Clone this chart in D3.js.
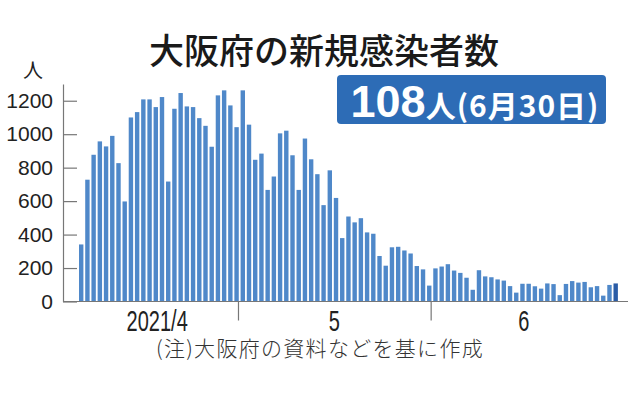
<!DOCTYPE html>
<html>
<head>
<meta charset="utf-8">
<script src="https://cdn.jsdelivr.net/npm/d3@7"></script>
<style>
  body { margin: 0; background: #fff; }
  svg { display: block; }
</style>
</head>
<body>
<div id="chart"></div>
<script>
// daily new cases in Osaka, 2021-04-05 .. 2021-06-30
var startDay = "2021-04-05";
var aprilCases = [341, 728, 877, 957, 927, 990, 827, 598, 1100, 1132, 1208, 1208, 1162,
                  1222, 717, 1152, 1246, 1166, 1162, 1096, 1050, 925, 1232, 1262, 1172, 1042];
var mayCases = [1262, 1057, 847, 884, 667, 747, 1005, 1021, 874, 667, 974, 850, 761, 576,
                784, 619, 379, 508, 473, 498, 413, 405, 272, 214, 324, 327, 305, 287, 212, 192, 95];
var juneCases = [198, 209, 223, 185, 171, 142, 70, 187, 150, 145, 132, 125, 92, 53, 106,
                 106, 91, 77, 108, 104, 38, 105, 122, 113, 117, 85, 92, 35, 99, 108];
var yTicks = [0, 200, 400, 600, 800, 1000, 1200];
var monthLabels = ["2021/4", "5", "6"];
var monthStarts = ["2021-04-05", "2021-05-01", "2021-06-01", "2021-07-01"];

var width = 638, height = 396;
var parse = d3.utcParse("%Y-%m-%d");
var cases = aprilCases.concat(mayCases, juneCases);
var data = cases.map(function(v, i) {
  return { date: d3.utcDay.offset(parse(startDay), i), value: v };
});

var svg = d3.select("#chart").append("svg")
  .attr("width", width)
  .attr("height", height);

var x = d3.scaleUtc()
  .domain([parse(monthStarts[0]), parse(monthStarts[3])])
  .range([76.4, 76.4 + 87 * 6.215]);
var y = d3.scaleLinear()
  .domain([0, 1300])
  .range([301.5, 84]);

// title
svg.append("text")
  .attr("x", 324)
  .attr("y", 64)
  .attr("text-anchor", "middle")
  .attr("font-family", "'Noto Sans CJK JP'")
  .attr("font-weight", 500)
  .attr("font-size", 35)
  .attr("fill", "#1a1a1a")
  .text("大阪府の新規感染者数");

// highlight box
svg.append("rect")
  .attr("x", 337)
  .attr("y", 75)
  .attr("width", 269)
  .attr("height", 49)
  .attr("rx", 4)
  .attr("fill", "#2d6cb6");

var latest = svg.append("text")
  .attr("x", 475)
  .attr("y", 117)
  .attr("text-anchor", "middle")
  .attr("fill", "#fff")
  .attr("font-weight", 700);
latest.append("tspan")
  .attr("font-family", "'Liberation Sans', Arial")
  .attr("font-size", 45)
  .text(cases[cases.length - 1]);
latest.append("tspan")
  .attr("font-family", "'Noto Sans CJK JP'")
  .attr("font-size", 30)
  .attr("letter-spacing", 1)
  .text("人(6月30日)");

// unit
svg.append("text")
  .attr("x", 33)
  .attr("y", 78)
  .attr("text-anchor", "middle")
  .attr("font-family", "'Noto Sans CJK JP'")
  .attr("font-size", 20)
  .attr("fill", "#222")
  .text("人");

// bars
svg.append("g")
  .selectAll("rect")
  .data(data)
  .enter()
  .append("rect")
  .attr("x", function(d) { return x(d.date) + 2.6; })
  .attr("y", function(d) { return y(d.value); })
  .attr("width", 4.4)
  .attr("height", function(d) { return y(0) - y(d.value); })
  .attr("fill", function(d, i) { return i == data.length - 1 ? "#2a5ca6" : "#4f88c9"; });

// y axis, ticks pointing inward
var yAxis = svg.append("g")
  .attr("transform", "translate(63,0)")
  .call(d3.axisLeft(y).tickValues(yTicks).tickFormat(d3.format("d"))
    .tickSizeInner(-14).tickSizeOuter(0).tickPadding(10));
yAxis.selectAll("path, line").attr("stroke", "#777").attr("stroke-width", 1.2);
yAxis.selectAll("text")
  .attr("font-family", "'Liberation Sans', Arial")
  .attr("font-size", 21)
  .attr("fill", "#222");

// x axis: month separators
var xAxis = svg.append("g")
  .attr("transform", "translate(0," + y(0) + ")")
  .call(d3.axisBottom(x)
    .tickValues([parse(monthStarts[1]), parse(monthStarts[2])])
    .tickSize(19)
    .tickFormat(""));
xAxis.select(".domain").remove();
xAxis.selectAll("line").attr("stroke", "#777").attr("stroke-width", 1.2);

svg.append("line")
  .attr("x1", 63)
  .attr("x2", 628)
  .attr("y1", y(0))
  .attr("y2", y(0))
  .attr("stroke", "#777")
  .attr("stroke-width", 1.2);

// month labels centred on each month's span
monthLabels.forEach(function(label, i) {
  var cx = (x(parse(monthStarts[i])) + x(parse(monthStarts[i + 1]))) / 2;
  svg.append("text")
    .attr("transform", "translate(" + cx + ",331) scale(0.69,1)")
    .attr("text-anchor", "middle")
    .attr("font-family", "'Liberation Sans', Arial")
    .attr("font-size", 29)
    .attr("fill", "#222")
    .text(label);
});

// source note
svg.append("text")
  .attr("x", 320)
  .attr("y", 356)
  .attr("text-anchor", "middle")
  .attr("font-family", "'Noto Sans CJK JP'")
  .attr("font-weight", 300)
  .attr("font-size", 21)
  .attr("letter-spacing", 1.3)
  .attr("fill", "#333")
  .text("(注)大阪府の資料などを基に作成");
</script>
</body>
</html>
